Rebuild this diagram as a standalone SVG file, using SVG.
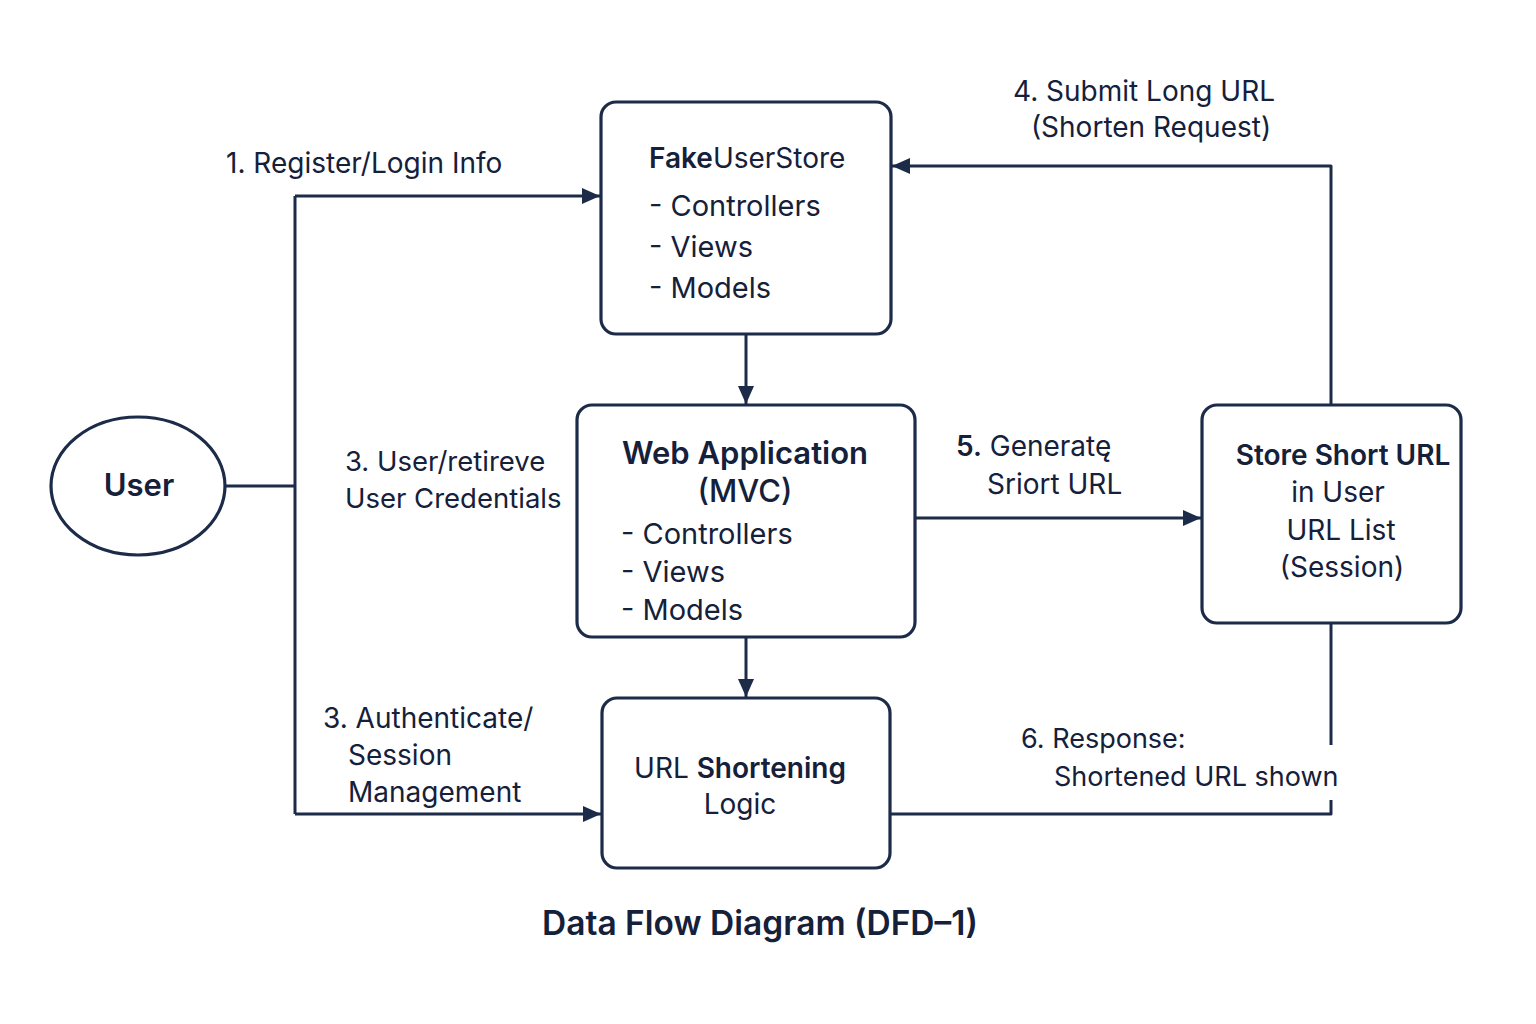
<svg xmlns="http://www.w3.org/2000/svg" width="1536" height="1024" viewBox="0 0 1536 1024">
<defs>
<marker id="arr" viewBox="0 0 18 16" refX="18" refY="8" markerWidth="18" markerHeight="16" markerUnits="userSpaceOnUse" orient="auto">
<path d="M0,0 L18,8 L0,16 z" fill="#1c2b48"/>
</marker>
<style>
.box{fill:#ffffff;stroke:#1c2b48;stroke-width:3.2}
.ln{fill:none;stroke:#1c2b48;stroke-width:3;stroke-linejoin:round}
.t{font-family:Inter,"Liberation Sans",sans-serif;fill:#15203a;font-size:28px}
.b{font-weight:600}
.c{text-anchor:middle}
</style>
</defs>
<rect width="1536" height="1024" fill="#ffffff"/>

<g id="connectors">
<line class="ln" x1="225" y1="486" x2="295" y2="486"/>
<path class="ln" d="M295,196 L295,814"/>
<path class="ln" d="M295,196 L600,196" marker-end="url(#arr)"/>
<path class="ln" d="M295,814 L601,814" marker-end="url(#arr)"/>
<path class="ln" d="M746,335 L746,404" marker-end="url(#arr)"/>
<path class="ln" d="M746,638 L746,697" marker-end="url(#arr)"/>
<path class="ln" d="M916,518 L1201,518" marker-end="url(#arr)"/>
<path class="ln" d="M1331,404 L1331,166 L892,166" marker-end="url(#arr)"/>
<path class="ln" d="M1331,624 L1331,745"/>
<path class="ln" d="M1331,800 L1331,814 L891,814"/>
</g>

<g id="user">
<ellipse cx="138" cy="486" rx="87" ry="69" class="box"/>
<text class="t b c" x="139" y="496" style="font-size:31px">User</text>
</g>

<g id="fakeuserstore">
<rect class="box" x="601" y="102" width="290" height="232" rx="15"/>
<text class="t" x="649" y="168" style="font-size:28px"><tspan font-weight="600">Fake</tspan>UserStore</text>
<text class="t" x="649" y="216" style="font-size:29px">- Controllers</text>
<text class="t" x="649" y="257" style="font-size:29px">- Views</text>
<text class="t" x="649" y="298" style="font-size:29px">- Models</text>
</g>

<g id="webapp">
<rect class="box" x="577" y="405" width="338" height="232" rx="15"/>
<text class="t b c" x="745" y="464" style="font-size:31px">Web Application</text>
<text class="t c" x="745" y="502" style="font-size:31px;font-weight:500">(MVC)</text>
<text class="t" x="621" y="544" style="font-size:29px">- Controllers</text>
<text class="t" x="621" y="582" style="font-size:29px">- Views</text>
<text class="t" x="621" y="620" style="font-size:29px">- Models</text>
</g>

<g id="urlshortening">
<rect class="box" x="602" y="698" width="288" height="170" rx="15"/>
<text class="t c" x="740" y="778">URL <tspan font-weight="600">Shortening</tspan></text>
<text class="t c" x="740" y="814">Logic</text>
</g>

<g id="storeshort">
<rect class="box" x="1202" y="405" width="259" height="218" rx="15"/>
<text class="t b c" x="1343" y="465">Store Short URL</text>
<text class="t c" x="1338" y="502">in User</text>
<text class="t c" x="1341" y="540">URL List</text>
<text class="t c" x="1342" y="577">(Session)</text>
</g>

<g id="labels">
<text class="t" x="226" y="173" style="font-size:28px">1. Register/Login Info</text>
<text class="t c" x="1144" y="101" style="font-size:28px">4. Submit Long URL</text>
<text class="t c" x="1151" y="137" style="font-size:28px">(Shorten Request)</text>
<text class="t" x="345" y="471" style="font-size:27.5px">3. User/retireve</text>
<text class="t" x="345" y="508" style="font-size:27.5px">User Credentials</text>
<text class="t" x="956" y="456" style="font-size:28px"><tspan font-weight="600">5.</tspan> Generatę</text>
<text class="t" x="987" y="494" style="font-size:28px">Sriort URL</text>
<text class="t" x="323" y="728" style="font-size:28px">3. Authenticate/</text>
<text class="t" x="348" y="765" style="font-size:28px">Session</text>
<text class="t" x="348" y="802" style="font-size:28px">Management</text>
<text class="t" x="1021" y="748" style="font-size:27px">6. Response:</text>
<text class="t" x="1054" y="786" style="font-size:27px">Shortened URL shown</text>
</g>

<g id="title">
<text class="t b c" x="760" y="935" style="font-size:33.5px">Data Flow Diagram (DFD–1)</text>
</g>
</svg>
